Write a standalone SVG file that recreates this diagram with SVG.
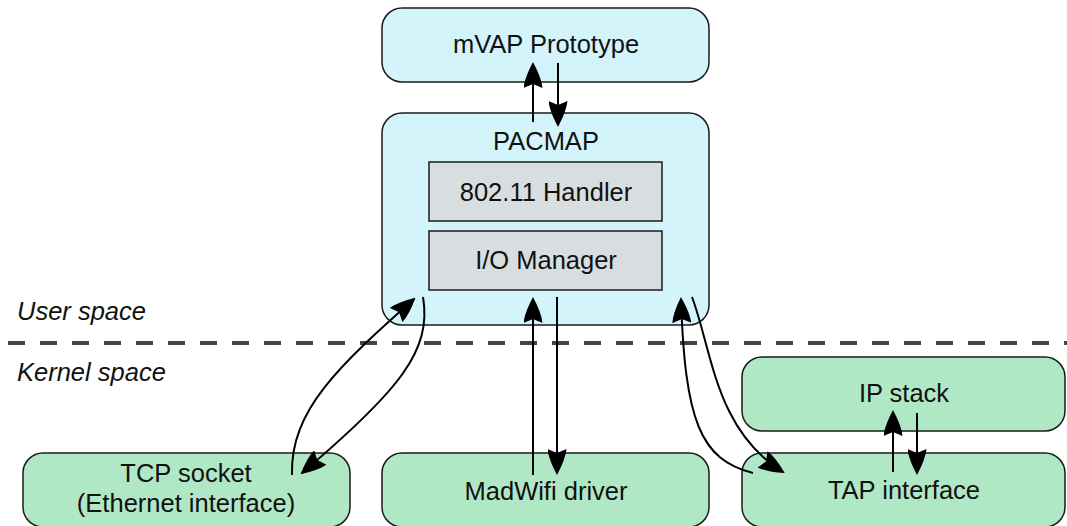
<svg xmlns="http://www.w3.org/2000/svg" width="1067" height="526" viewBox="0 0 1067 526">
<defs>
<style>
.blue{fill:#d4f4fc;stroke:#1a1a1a;stroke-width:1.5}
.green{fill:#b0e8c6;stroke:#1a1a1a;stroke-width:1.5}
.gray{fill:#d8dee0;stroke:#1a1a1a;stroke-width:1.5}
text{font-family:"Liberation Sans",Arial,sans-serif;font-size:25.5px;fill:#111;text-anchor:middle}
.side{font-style:italic;text-anchor:start}
.conn path{fill:none;stroke:#000;stroke-width:2;marker-end:url(#ah)}
</style>
<marker id="ah" viewBox="0 0 26 19" refX="24" refY="9.5" markerWidth="26" markerHeight="19" markerUnits="userSpaceOnUse" orient="auto">
<path d="M26,9.5 Q10,1 0,0 L4,9.5 L0,19 Q10,18 26,9.5 Z" fill="#000"/>
</marker>
</defs>
<rect width="1067" height="526" fill="#fff"/>
<g id="separator">
<line x1="8" y1="343" x2="1067" y2="343" stroke="#444" stroke-width="4" stroke-dasharray="17,15"/>
<text class="side" x="17" y="320">User space</text>
<text class="side" x="17" y="381">Kernel space</text>
</g>
<g id="mvap">
<rect class="blue" x="382" y="8" width="327" height="74" rx="20"/>
<text x="546" y="53">mVAP Prototype</text>
</g>
<g id="pacmap">
<rect class="blue" x="382" y="113" width="327" height="212" rx="20"/>
<text x="546" y="150">PACMAP</text>
</g>
<g id="handler">
<rect class="gray" x="429" y="162" width="233" height="59"/>
<text x="546" y="201">802.11 Handler</text>
</g>
<g id="iomanager">
<rect class="gray" x="429" y="231" width="233" height="59"/>
<text x="546" y="269">I/O Manager</text>
</g>
<g id="tcp">
<rect class="green" x="23" y="453" width="327" height="74" rx="20"/>
<text x="186" y="482">TCP socket</text>
<text x="186" y="512">(Ethernet interface)</text>
</g>
<g id="madwifi">
<rect class="green" x="382" y="453" width="327" height="74" rx="20"/>
<text x="546" y="500">MadWifi driver</text>
</g>
<g id="ipstack">
<rect class="green" x="742" y="357" width="323" height="74" rx="20"/>
<text x="904" y="402">IP stack</text>
</g>
<g id="tap">
<rect class="green" x="742" y="453" width="323" height="74" rx="20"/>
<text x="904" y="499">TAP interface</text>
</g>
<g id="connectors" class="conn">
<path d="M533,122 L533,64"/>
<path d="M558,63 L558,125"/>
<path d="M533,475 L533,299"/>
<path d="M557,297 L557,473"/>
<path d="M893,472 L893,412"/>
<path d="M917,413 L917,473"/>
<path d="M292,475 C290,410 340,365 414,299"/>
<path d="M423,297 C432,350 400,390 302,473"/>
<path d="M753,473 C700,460 685,420 681,299"/>
<path d="M692,297 C712,350 715,430 783,472"/>
</g>
</svg>
